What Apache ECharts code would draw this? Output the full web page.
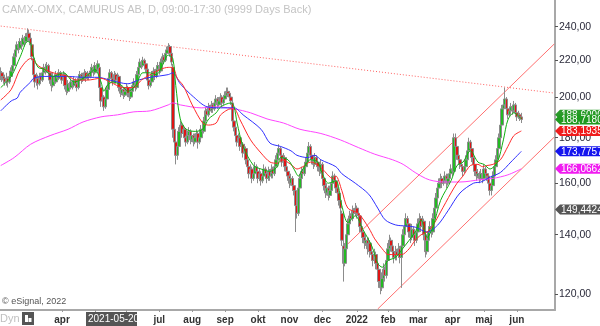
<!DOCTYPE html>
<html><head><meta charset="utf-8">
<script src="https://cdn.jsdelivr.net/npm/echarts@6/dist/echarts.min.js"></script>
<style>html,body{margin:0;padding:0;background:#fff}#c{width:600px;height:326px}</style>
</head><body><div id="c"></div><script>
// ---- axis / categories ----
const startDate = '2021-02-03';
const nCategories = 371;
const monthLabels = ['jan','feb','mar','apr','maj','jun','jul','aug','sep','okt','nov','dec'];
const yTicks = [120, 140, 160, 180, 200, 220, 240];
const yMin = 115.2, yMax = 257.2;

// ---- candles [open, close, low, high] ----
const ohlc = [
[212,213,209,216],[213,211,208,214],[211,209,207,213],[210,208,206,212],[208,210,206,213],[210,208,205,211],[208,211,207,213],[211,214,210,216],[214,217,212,219],[217,222,216,224],
[222,226,220,228],[226,229,224,231],[229,227,224,231],[227,231,226,233],[231,229,226,232],[229,233,228,235],[233,231,228,234],[231,234,230,236],[234,236,232,239],[236,233,231,238],
[233,229,227,235],[229,222,220,230],[221,212,209,223],[212,208,205,214],[208,210,206,213],[210,207,204,212],[207,211,206,213],[211,209,207,213],[209,213,208,215],[213,216,211,218],
[216,214,212,218],[214,217,213,219],[217,213,211,218],[213,209,207,214],[209,206,203,210],[206,211,205,213],[211,208,206,212],[208,212,207,214],[212,210,208,213],[210,213,209,215],
[213,211,209,214],[211,209,207,212],[209,212,208,214],[212,206,204,213],[206,203,201,207],[203,207,202,209],[207,205,203,208],[205,208,204,210],[208,206,204,209],[206,209,205,211],
[209,207,205,210],[207,205,203,208],[205,210,204,212],[210,212,209,214],[212,209,207,213],[209,211,208,213],[211,213,210,215],[213,210,208,214],[210,212,209,214],[212,211,209,213],
[211,214,210,216],[214,216,213,218],[216,213,211,217],[213,217,212,219],[217,215,213,218],[215,218,214,220],[216,205,203,217],[205,198,195,206],[198,200,196,202],[200,195,193,201],
[195,199,194,201],[199,204,198,206],[204,210,203,212],[210,213,209,215],[213,210,208,214],[210,208,206,211],[208,212,207,214],[212,209,207,213],[209,211,208,213],[211,205,203,212],
[205,202,200,206],[202,204,201,206],[204,201,199,205],[201,203,200,205],[203,205,202,207],[205,202,200,206],[202,200,198,203],[200,203,199,205],[203,206,202,208],[206,208,205,210],
[208,205,203,209],[205,212,204,214],[212,216,211,218],[216,219,215,221],[219,217,215,220],[217,220,216,222],[220,218,216,221],[218,215,213,219],[215,209,207,216],[209,206,204,210],
[206,208,205,210],[208,212,207,214],[212,214,211,216],[214,211,209,215],[211,215,210,217],[215,217,214,219],[217,214,212,218],[214,219,213,221],[219,222,218,224],[222,220,218,223],
[220,224,219,226],[224,226,223,228],[226,228,224,230],[228,224,222,229],[224,219,217,225],[216,184,180,218],[184,178,172,186],[178,172,168,180],[172,176,170,178],[176,183,175,185],
[183,186,181,188],[186,182,180,187],[182,184,181,186],[184,180,178,185],[180,178,176,181],[178,181,177,183],[181,183,180,185],[183,179,177,184],[179,181,178,183],[181,178,176,182],
[178,180,177,182],[180,182,179,184],[182,178,175,183],[178,180,177,182],[180,184,179,186],[184,183,181,185],[183,188,182,190],[188,193,187,195],[193,191,189,194],[191,195,190,197],
[195,193,191,196],[193,196,192,198],[196,194,192,197],[194,197,193,199],[197,199,196,201],[199,196,194,200],[196,198,195,200],[198,200,197,202],[200,197,195,201],[197,199,196,201],
[199,201,198,203],[201,203,200,205],[203,202,200,205],[202,200,198,203],[200,198,196,201],[197,188,186,198],[188,185,183,189],[185,181,179,186],[181,178,176,182],[178,180,177,182],
[180,176,174,181],[176,177,175,179],[177,173,171,178],[173,175,172,177],[175,170,168,176],[170,167,165,171],[167,164,162,168],[164,166,163,168],[166,162,160,167],[162,164,161,166],
[164,167,163,169],[167,165,163,168],[165,162,160,166],[162,164,161,166],[164,161,159,165],[161,163,160,165],[163,166,162,168],[166,164,162,167],[164,162,160,165],[162,165,161,167],
[165,163,161,166],[163,166,162,168],[166,164,162,167],[164,167,163,169],[167,170,166,172],[170,173,169,175],[173,175,172,177],[175,172,170,176],[172,169,167,173],[169,171,168,173],
[171,167,165,172],[167,165,163,168],[165,163,161,166],[163,160,158,164],[160,162,159,164],[162,159,157,163],[159,157,155,160],[157,151,141,158],[151,148,146,153],[148,158,147,160],
[158,162,157,164],[162,165,161,167],[165,164,162,166],[164,167,163,169],[167,169,166,171],[169,173,168,175],[173,176,172,178],[176,172,170,177],[172,170,168,173],[170,168,166,171],
[168,171,167,173],[171,169,167,172],[169,167,165,170],[167,165,163,168],[165,168,164,170],[168,162,160,169],[162,159,157,163],[159,156,154,160],[156,158,155,160],[158,155,153,159],
[155,157,154,159],[157,160,156,162],[160,163,159,165],[163,161,159,164],[161,158,156,162],[158,156,154,159],[156,153,151,157],[153,150,148,154],[148,138,136,149],[136,130,124,138],
[130,135,129,137],[135,140,134,142],[140,144,139,146],[144,147,143,149],[147,146,144,148],[146,149,145,151],[149,148,146,150],[148,150,147,152],[150,148,146,151],[148,147,145,149],
[147,143,141,148],[143,141,139,144],[141,139,137,142],[139,137,135,140],[137,138,136,140],[138,135,133,139],[135,137,134,139],[137,134,132,138],[134,133,131,135],[133,131,129,134],
[131,133,130,135],[133,130,128,134],[130,128,126,131],[128,124,122,129],[124,122,120,125],[122,125,121,127],[125,128,124,130],[128,126,124,129],[126,131,125,133],[131,135,130,137],
[135,138,134,140],[138,136,134,139],[136,134,132,137],[134,132,130,135],[132,134,131,136],[134,133,131,135],[133,135,132,137],[135,132,130,136],[132,136,122,137],[136,140,135,142],
[140,143,139,145],[143,146,142,148],[146,144,142,147],[144,141,139,145],[141,139,137,142],[139,142,138,144],[142,140,138,143],[140,138,136,141],[138,141,137,143],[141,144,140,146],
[144,146,143,148],[146,143,141,147],[143,145,142,147],[145,140,138,146],[140,134,132,141],[134,138,133,140],[138,141,137,143],[141,143,140,145],[143,141,139,144],[141,146,140,148],
[146,150,145,152],[150,154,149,156],[154,158,153,160],[158,160,157,162],[160,162,159,164],[162,160,158,163],[160,161,159,163],[161,163,160,165],[163,160,158,164],[160,162,159,164],
[162,164,161,166],[164,166,163,168],[166,165,163,167],[165,180,164,182],[180,176,174,182],[176,172,170,177],[172,170,168,173],[170,168,166,171],[168,167,165,169],[167,165,163,168],
[165,167,164,169],[167,170,166,172],[170,174,169,176],[174,178,173,180],[178,175,173,179],[175,171,169,176],[171,168,166,172],[168,165,163,169],[165,163,161,166],[163,164,162,166],
[164,162,160,165],[162,164,161,166],[164,162,160,165],[162,166,161,168],[166,164,162,167],[164,163,161,165],[163,160,158,164],[160,157,155,161],[157,159,155,161],[159,163,158,165],
[163,167,162,169],[167,170,166,172],[170,175,169,177],[175,180,174,182],[180,186,179,188],[186,194,185,196],[194,196,193,199],[196,199,195,205],[199,194,192,200],[194,191,189,195],
[191,193,190,195],[193,195,192,197],[195,193,191,196],[193,196,192,198],[196,192,190,197],[192,190,188,193],[190,191,189,193],[191,190,188,192],[190,188.72,187,192]
];

// ---- moving averages [categoryIndex, value] ----
const maGreen = [[0,205],[7,211],[13,222],[18,231],[20,230],[22,222],[25,216],[29,215],[35,211],[42,213],[49,208],[53,209],[60,213],[63,215],[67,208],[69,203],[71,206],[75,208],[81,206],[85,203],[90,206],[95,213],[99,213],[104,212],[108,217],[112,223],[115,221],[117,206],[120,189],[124,184],[130,183],[135,184],[139,189],[144,192],[147,195],[154,197],[156,195],[158,187],[162,176],[169,167.5],[174,166],[180,165],[185,167],[187,171],[192,170],[196,166],[199,163],[202,166],[207,170],[212,169],[215,164],[219,160],[224,161],[228,151],[232,144.5],[237,147],[242,142],[248,136],[252,130],[255,128.7],[259,131],[264,132],[268,134.6],[273,138],[277,141],[281,145.5],[285,139],[289,143],[294,153],[301,161],[305,167.5],[309,169],[314,174],[319,169],[323,168],[327,166],[332,169],[336,179],[339,188.5],[343,192],[348,189]];
const maRed = [[0,198.5],[7,204],[13,215],[20,221],[25,217],[29,215],[35,213],[45,211],[51,209],[58,209],[67,210],[73,208],[82,205],[89,205],[94,209],[100,212],[107,215],[112,216],[115,216],[118,210],[122,206],[128,196],[135,187],[139,186],[144,187],[147,191],[154,194],[156,194],[160,188.5],[167,179],[174,173],[180,169],[185,168.5],[188,170],[194,168],[198,166],[202,167],[207,169],[210,168.5],[215,166],[222,162],[224,163],[228,157],[232,150],[239,148],[246,142.5],[250,138.5],[255,135],[259,133],[264,133],[268,133],[273,135],[277,138],[281,140],[285,141],[289,143.5],[294,148.5],[301,156],[305,160],[309,163],[314,167.5],[319,168],[322,167],[325,167.5],[329,168],[334,170],[339,176],[343,181],[348,183.19]];
const maBlue = [[0,193],[7,198],[11,199.5],[13,202.5],[20,208],[22,210],[29,211],[35,211],[45,211],[55,210.5],[65,210.5],[73,209],[85,207],[92,209],[100,210.5],[112,212],[115,213],[120,207],[129,200],[138,195],[147,194.5],[156,194.5],[162,191],[174,184],[180,177.5],[187,176],[194,174],[198,172],[205,171],[210,172],[214,170],[224,167],[228,164],[237,160],[246,155.5],[252,150],[257,145.5],[264,143.6],[271,143.2],[277,142.8],[285,141],[292,143.5],[299,149],[307,156],[316,160],[321,160.5],[327,162.5],[334,164.5],[341,169],[348,173.78]];
const maMagenta = [[0,167.5],[9,171],[20,177],[33,181],[45,184],[55,187.5],[67,190],[78,191],[89,192.5],[100,193],[112,196],[115,197],[120,196],[134,194.5],[145,195],[156,194],[167,192],[178,189],[189,187],[200,184],[214,182],[227,179],[239,175.5],[250,172.5],[262,170],[269,168],[277,164.5],[284,162],[289,161],[296,160.5],[307,160.5],[321,161.5],[329,162],[339,163.5],[348,166.07]];

// ---- trend lines [categoryIndex, value] ----
const trendTop = [[0,240.4],[370,202.1]];
const channelUpper = [[232,136.7],[370,229.5]];
const channelLower = [[252,115.5],[370,180.3]];

// ---- price tags on right ----
const tagValues = [188.6, 188.71805, 183.19353, 173.77575, 166.06627, 149.44245];
const tagTexts = ['188,60000','188,71805','183,19353','173,77575','166,06627','149,44245'];
const tagColors = ['#2a9a2a','#1f9a1f','#f01c1c','#1414ee','#f01cf0','#555555'];
const tagShift = [-5,0,0,0,0,0];

// build categories (weekdays)
const cats = [];
{
  let d = new Date(startDate + 'T00:00:00Z');
  while (cats.length < nCategories) {
    const wd = d.getUTCDay();
    if (wd !== 0 && wd !== 6) cats.push(d.toISOString().slice(0,10));
    d = new Date(d.getTime() + 86400000);
  }
}
const isMonthStart = (idx) => idx > 25 && idx < 355 && cats[idx].slice(5,7) !== cats[idx-1].slice(5,7);
const monthText = (v) => {
  const m = parseInt(v.slice(5,7),10);
  return m === 1 ? v.slice(0,4) : monthLabels[m-1];
};

const chart = echarts.init(document.getElementById('c'), null, {renderer:'canvas'});
const FONT = 'Arial, "Liberation Sans", sans-serif';
const NARROW = '"Liberation Sans Narrow", "Arial Narrow", Arial, sans-serif';
const lineS = (name, data, color, extra) => Object.assign({
  name, type:'line', data, smooth:0.3, showSymbol:false, symbol:'none', silent:true,
  lineStyle:{color, width:1}, z:4
}, extra||{});

chart.setOption({
  animation:false,
  backgroundColor:'#ffffff',
  grid:{left:0, right:45, top:0, bottom:16, containLabel:false, outerBoundsMode:'none'},
  xAxis:{
    type:'category', data:cats, boundaryGap:true,
    axisLine:{show:true, lineStyle:{color:'#a8a8a8', width:2}},
    axisTick:{show:true, length:2, alignWithLabel:true, interval:(i)=>isMonthStart(i), lineStyle:{color:'#999'}},
    axisLabel:{show:true, interval:(i)=>isMonthStart(i), formatter:monthText, color:'#333', fontSize:10, fontWeight:'bold', fontFamily:FONT, margin:5},
    splitLine:{show:false}
  },
  yAxis:{
    type:'log', logBase:10, position:'right', min:yMin, max:yMax,
    axisLine:{show:true, lineStyle:{color:'#a8a8a8', width:2}},
    axisTick:{show:true, length:3, lineStyle:{color:'#555'}, customValues:yTicks},
    axisLabel:{show:true, color:'#2b2b3b', fontSize:10.5, fontFamily:FONT, margin:4, customValues:yTicks,
      formatter:(v)=>Number(v).toFixed(2).replace('.',',')},
    splitLine:{show:false}
  },
  series:[
    lineS('trendTop', trendTop, '#ff6060', {smooth:false, lineStyle:{color:'#ff6060', width:1, type:[1,2]}, z:2}),
    lineS('chUp', channelUpper, '#ff7070', {smooth:false, z:2}),
    lineS('chLow', channelLower, '#ff7070', {smooth:false, z:2}),
    {type:'candlestick', data:ohlc, barWidth:3, silent:true, z:3,
     itemStyle:{color:'#22bb22', color0:'#e01414', borderColor:'#8c8c8c', borderColor0:'#8c8c8c', borderWidth:1}},
    lineS('ma200', maMagenta, '#ff44ff'),
    lineS('ma50', maBlue, '#3030ff'),
    lineS('ma20', maRed, '#ff2a2a'),
    lineS('ma10', maGreen, '#10b010')
  ]
});

// overlay texts and tags
const g = [];
g.push({type:'text', left:2, top:4, style:{text:'CAMX-OMX, CAMURUS AB, D, 09:00-17:30 (9999 Days Back)', fill:'#c4c4c4', font:'11px '+FONT}});
g.push({type:'text', left:2, top:297, style:{text:'\u00a9 eSignal, 2022', fill:'#555', font:'9px '+FONT}});
g.push({type:'text', x:0, y:319, style:{text:'Dyn', fill:'#c0c0c0', font:'11px '+FONT, verticalAlign:'middle'}, z:10});
g.push({type:'rect', shape:{x:22, y:312, width:12, height:13}, style:{fill:'#555'}, z:10});
g.push({type:'rect', shape:{x:25, y:315, width:3, height:7}, style:{fill:'#fff'}, z:11});
g.push({type:'rect', shape:{x:28.5, y:318, width:3, height:4}, style:{fill:'#fff'}, z:11});
g.push({type:'rect', shape:{x:86, y:312, width:51, height:14}, style:{fill:'#555'}, z:10});
g.push({type:'text', x:88, y:319.5, style:{text:'2021-05-20', fill:'#fff', font:'10px '+FONT, verticalAlign:'middle'}, z:11});
tagValues.forEach((v, k) => {
  const y = chart.convertToPixel({yAxisIndex:0}, v) + tagShift[k];
  g.push({type:'polygon', shape:{points:[[555,y],[560,y-5],[600,y-5],[600,y+5],[560,y+5]]}, style:{fill:tagColors[k]}, z:20+k});
  g.push({type:'text', x:561, y:y+0.5, style:{text:tagTexts[k], fill:'#fff', font:'10px '+NARROW, verticalAlign:'middle'}, z:20+k});
});
chart.setOption({graphic:g});
</script></body></html>
